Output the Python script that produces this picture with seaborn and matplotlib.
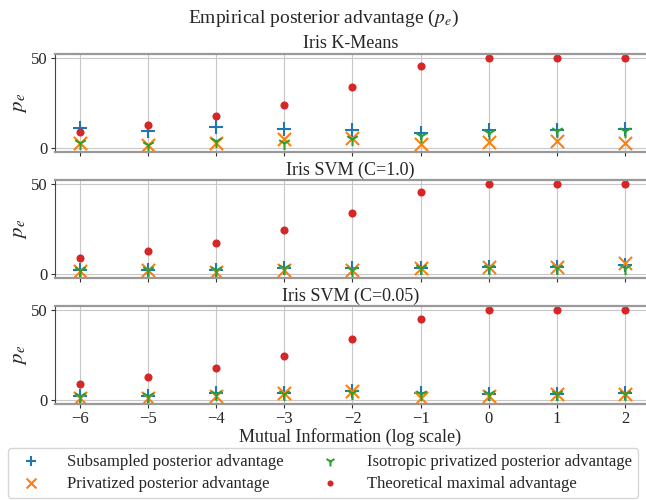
import numpy as np
import matplotlib
matplotlib.use('Agg')
import matplotlib.pyplot as plt
import seaborn as sns

# 横轴: 互信息 (log)
mi = [-6, -5, -4, -3, -2, -1, 0, 1, 2]

titles = ['Iris K-Means', 'Iris SVM (C=1.0)', 'Iris SVM (C=0.05)']

# 每个子图的四组数据 (从图上读出来的)
subsampled = [
    [11.0, 9.2, 11.4, 10.1, 9.7, 8.3, 9.7, 9.7, 10.1],
    [2.0, 2.0, 2.0, 3.0, 3.0, 3.0, 4.0, 4.0, 5.0],
    [2.0, 2.0, 4.0, 4.0, 5.0, 4.0, 3.0, 3.0, 4.0],
]
privatized = [
    [2.4, 1.3, 2.4, 5.0, 5.2, 1.8, 3.1, 3.7, 2.4],
    [1.5, 2.0, 1.0, 2.0, 2.0, 3.0, 4.0, 4.0, 6.0],
    [1.0, 1.0, 2.0, 4.0, 5.0, 1.0, 2.0, 3.0, 3.0],
]
isotropic = [
    [2.8, 1.3, 3.7, 2.8, 5.0, 6.4, 7.9, 9.0, 9.0],
    [2.0, 2.0, 2.0, 3.0, 2.0, 3.0, 3.0, 3.0, 3.0],
    [2.0, 2.0, 3.0, 3.0, 4.0, 3.0, 3.0, 3.0, 3.0],
]
theoretical = [
    [8.6, 12.3, 17.5, 23.9, 33.5, 45.1, 50.0, 50.0, 50.0],
    [9.0, 12.5, 17.1, 24.2, 33.9, 45.3, 50.0, 50.0, 50.0],
    [8.7, 12.7, 17.5, 24.4, 33.6, 45.0, 50.0, 50.0, 50.0],
]

sns.set_style('whitegrid')
plt.rcParams['font.family'] = 'serif'
plt.rcParams['font.serif'] = ['Liberation Serif', 'DejaVu Serif']
plt.rcParams['mathtext.fontset'] = 'stix'

fig, axes = plt.subplots(3, 1, figsize=(6.46, 5.0), dpi=100, sharex=True)
fig.subplots_adjust(left=0.085, right=1.0, top=0.892, bottom=0.192, hspace=0.29)

for i, ax in enumerate(axes):
    sns.scatterplot(x=mi, y=subsampled[i], marker='+', color='tab:blue', s=90,
                    linewidth=1.5, ax=ax, label='Subsampled posterior advantage')
    sns.scatterplot(x=mi, y=privatized[i], marker='x', color='tab:orange', s=90,
                    linewidth=1.5, ax=ax, label='Privatized posterior advantage')
    sns.scatterplot(x=mi, y=isotropic[i], marker='1', color='tab:green', s=90,
                    linewidth=1.5, ax=ax, label='Isotropic privatized posterior advantage')
    sns.scatterplot(x=mi, y=theoretical[i], marker='o', color='tab:red', s=34,
                    linewidth=0, ax=ax, label='Theoretical maximal advantage')
    ax.set_title(titles[i], fontsize=13, pad=4)
    ax.set_ylabel('$p_e$', fontsize=15, labelpad=2)
    ax.set_yticks([0, 50])
    ax.set_xlim(-6.37, 2.31)
    ax.set_ylim(-2.3, 52.0)
    ax.grid(True, color='#c8c8c8', linewidth=0.8)
    ax.tick_params(labelsize=12, length=3, color='#333333', bottom=True, left=True, pad=2)
    for side in ['top', 'bottom']:
        ax.spines[side].set_color('#999999')
        ax.spines[side].set_linewidth(1.6)
    ax.spines['left'].set_color('#444444')
    ax.spines['left'].set_linewidth(0.8)
    ax.spines['right'].set_visible(False)
    handles, labels = ax.get_legend_handles_labels()
    ax.get_legend().remove()

axes[-1].set_xticks(mi)
axes[-1].set_xlabel('Mutual Information (log scale)', fontsize=13, labelpad=1)

leg = fig.legend(handles, labels, loc='lower center',
                 bbox_to_anchor=(0.5, 0.0), ncol=2, fontsize=12, frameon=True,
                 handletextpad=1.2, columnspacing=1.8, borderaxespad=0.15,
                 labelspacing=0.35, borderpad=0.35, fancybox=True, markerscale=0.75)
leg.get_frame().set_edgecolor('#cccccc')

fig.suptitle('Empirical posterior advantage ($p_e$)', fontsize=14, y=0.985)

fig.savefig('out.png', dpi=100)
